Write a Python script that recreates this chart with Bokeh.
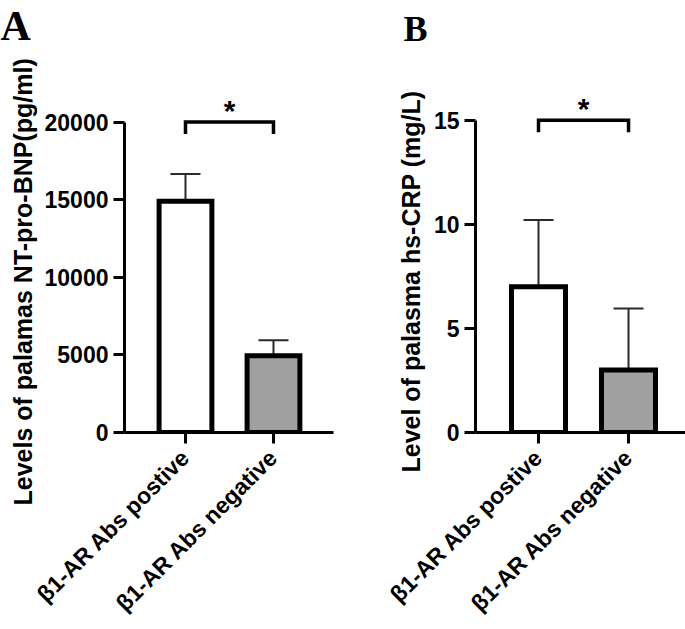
from bokeh.plotting import figure
from bokeh.layouts import row
from bokeh.models import Range1d, FixedTicker, Whisker, TeeHead, ColumnDataSource, Label, Title
from bokeh.embed import file_html
from bokeh.resources import INLINE

categories = ["β1-AR Abs postive", "β1-AR Abs negative"]
bnp_mean = [14900, 4950]
bnp_upper = [16650, 5950]
bnp_lower = [13300, 4150]
crp_mean = [7.0, 3.0]
crp_upper = [10.2, 5.95]
crp_lower = [3.85, 0.08]
bar_colors = ["#ffffff", "#a0a0a0"]
bnp_ticks = [0, 5000, 10000, 15000, 20000]
crp_ticks = [0, 5, 10, 15]
bnp_label = "Levels of palamas NT-pro-BNP(pg/ml)"
crp_label = "Level of palasma hs-CRP (mg/L)"

SANS = "Liberation Sans"
SERIF = "Liberation Serif"


def make_panel(width, x_start, x_end, y_end, border_left, border_right,
               ylabel, means, uppers, lowers, ticks, bracket_y, bracket_drop,
               letter, letter_offset, letter_size, label_offset, label_standoff):
    xs = list(range(len(categories)))
    p = figure(width=width, height=629, output_backend="svg", toolbar_location=None,
               x_range=Range1d(x_start, x_end), y_range=Range1d(0, y_end),
               min_border_left=border_left, min_border_right=border_right,
               min_border_top=46, min_border_bottom=197)
    p.outline_line_color = None
    p.grid.visible = False
    p.background_fill_color = "white"
    p.border_fill_color = "white"

    p.title.text = letter
    p.title.align = "left"
    p.title.offset = letter_offset
    p.title.text_font = SERIF
    p.title.text_font_style = "bold"
    p.title.text_font_size = letter_size
    p.title.text_color = "black"
    p.title.standoff = 0

    src = ColumnDataSource(dict(x=xs, top=means, upper=uppers, lower=lowers, color=bar_colors))
    p.vbar(x="x", top="top", bottom=0, width=0.6, source=src, fill_color="color",
           line_color="black", line_width=5, line_join="miter")
    w = Whisker(base="x", upper="upper", lower="lower", source=src,
                line_color="#2a2a2a", line_width=2,
                upper_head=TeeHead(size=30, line_color="#2a2a2a", line_width=2),
                lower_head=TeeHead(size=30, line_color="#2a2a2a", line_width=2))
    p.add_layout(w)

    # significance bracket
    p.line(x=[xs[0], xs[0], xs[1], xs[1]],
           y=[bracket_y - bracket_drop, bracket_y, bracket_y, bracket_y - bracket_drop],
           line_color="black", line_width=3.5, line_join="miter")
    p.add_layout(Label(x=(xs[0] + xs[1]) / 2, y=bracket_y, text="*", text_align="center",
                       text_baseline="alphabetic", text_font=SANS, text_font_style="bold",
                       text_font_size="30px", text_color="black", y_offset=12))

    # axes
    for ax in (p.xaxis[0], p.yaxis[0]):
        ax.axis_line_width = 3
        ax.major_tick_line_width = 3
        ax.major_tick_out = 11
        ax.major_tick_in = 0
        ax.minor_tick_line_color = None
        ax.major_label_text_font = SANS
        ax.major_label_text_font_style = "bold"
        ax.major_label_text_color = "black"

    p.yaxis.ticker = FixedTicker(ticks=ticks)
    p.yaxis.bounds = (ticks[0], ticks[-1])
    p.yaxis.major_label_text_font_size = "23px"
    p.yaxis.major_label_standoff = 5

    ytitle = Title(text=ylabel, align="left", offset=label_offset, text_font=SANS,
                   text_font_style="bold", text_font_size="25px", text_color="black",
                   standoff=label_standoff, vertical_align="top")
    p.add_layout(ytitle, "left")

    p.xaxis.ticker = FixedTicker(ticks=xs)
    p.xaxis.major_label_overrides = {x: c for x, c in zip(xs, categories)}
    p.xaxis.major_label_orientation = 0.785398
    p.xaxis.major_label_text_font_size = "23px"
    p.xaxis.major_label_standoff = 10
    return p


pA = make_panel(342, -0.693, 1.682, 24744, 124, 9, bnp_label, bnp_mean, bnp_upper,
                bnp_lower, bnp_ticks, 20000, 770, "A", -124, "42px", -73, 5)
pB = make_panel(343, -0.70, 1.633, 18.44, 133, 0, crp_label, crp_mean, crp_upper,
                crp_lower, crp_ticks, 15, 0.58, "B", -72, "36px", -40, 7)

layout = row(pA, pB)
open("out.html", "w").write(file_html(layout, INLINE))
